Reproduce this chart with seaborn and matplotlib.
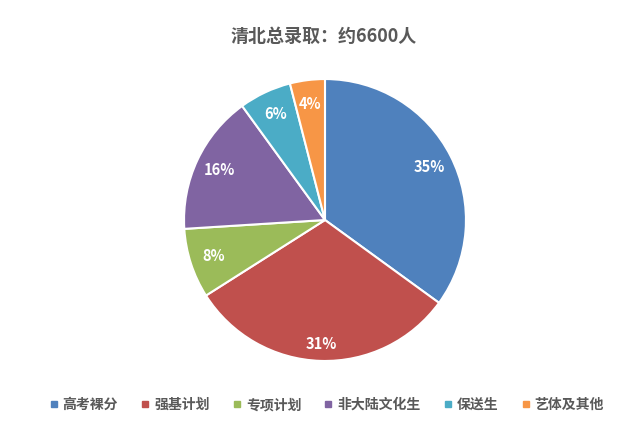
import matplotlib
matplotlib.use("Agg")
import matplotlib.pyplot as plt
import seaborn as sns
from matplotlib.lines import Line2D

categories = ["高考裸分", "强基计划", "专项计划", "非大陆文化生", "保送生", "艺体及其他"]
shares = [35, 31, 8, 16, 6, 4]
colors = ["#4F81BD", "#C0504D", "#9BBB59", "#8064A2", "#4BACC6", "#F79646"]
title = "清北总录取：约6600人"

sns.set_theme(style="white")
plt.rcParams["font.family"] = ["Noto Sans CJK SC", "DejaVu Sans"]
palette = sns.color_palette(colors)

fig = plt.figure(figsize=(6.4, 4.44), dpi=100)
ax = fig.add_axes([0.2875, 0.187, 0.4406, 0.635])

wedges, texts, autotexts = ax.pie(
    shares, colors=palette, startangle=90, counterclock=False,
    autopct="%d%%", pctdistance=0.83,
    wedgeprops=dict(edgecolor="white", linewidth=1.5),
    textprops=dict(color="white", fontsize=10.5, fontweight="bold"),
)
# the 31% label sits a bit further out in the original
x, y = autotexts[1].get_position()
autotexts[1].set_position((x * 1.06, y * 1.06))

ax.set_xlim(-1, 1)
ax.set_ylim(-1, 1)
ax.set_aspect("equal")
ax.axis("off")

fig.text(0.505, 1 - 36 / 444, title, ha="center", va="center",
         fontsize=13, fontweight="bold", color="#595959")

handles = [Line2D([0], [0], marker="s", linestyle="", markersize=4.5,
                  markerfacecolor=c, markeredgecolor=c) for c in palette]
fig.legend(handles, categories, loc="center", bbox_to_anchor=(0.51, 1 - 405 / 444),
           ncol=6, frameon=False, handlelength=0.7, handletextpad=0.3,
           columnspacing=1.6, prop=dict(size=10, weight="bold"), labelcolor="#595959")

fig.savefig("out.png", dpi=100, facecolor="white")
